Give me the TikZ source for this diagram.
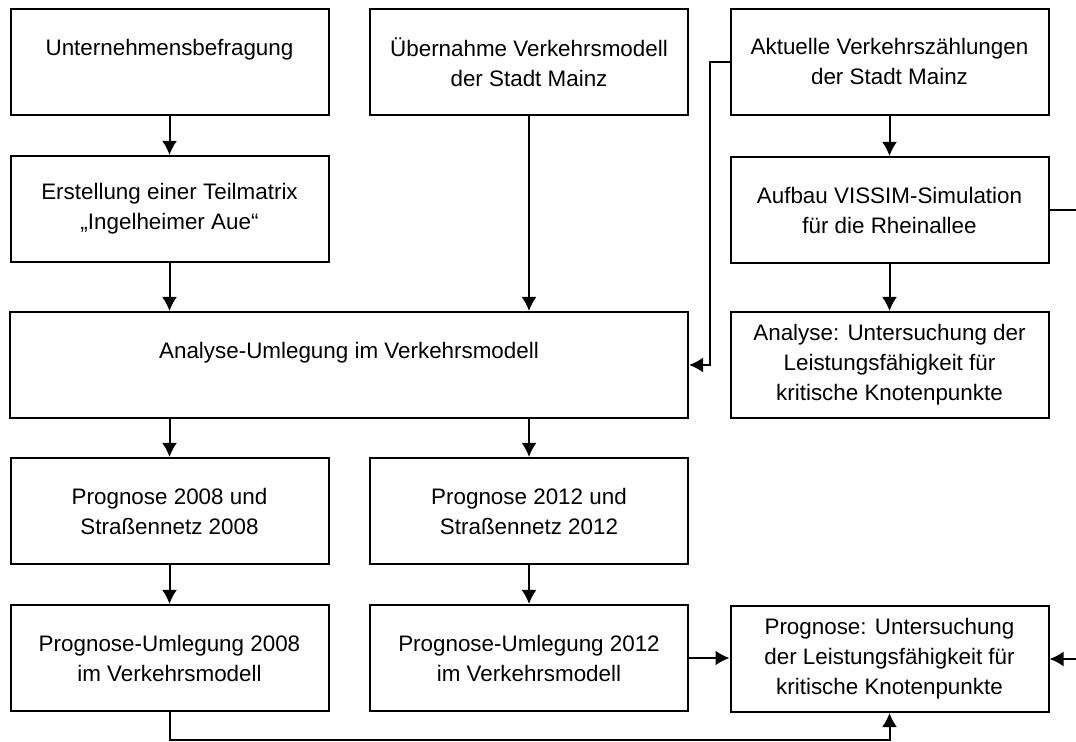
\documentclass[tikz,border=0pt]{standalone}
\usepackage{fontspec}
\setmainfont{Liberation Sans}
\usetikzlibrary{arrows.meta,positioning,calc}

\begin{document}
\begin{tikzpicture}[x=0.5pt,y=-0.5pt,
  kasten/.style={draw,line width=1pt,minimum width=159pt,minimum height=53pt,inner sep=0pt,align=center,font=\fontsize{11.2}{15}\selectfont},
  pfeil/.style={line width=1pt,-{Latex[length=7pt,width=7.5pt]}}]
%Rahmen in Pixeln, rechts wird die Leitung abgeschnitten
\clip (0,0) rectangle (1076,742);
  \pgfmathsetmacro{\xa}{169.5}
  \pgfmathsetmacro{\xb}{529}
  \pgfmathsetmacro{\xc}{889.5}
%Erste Zeile
\node[kasten] (unt) at (\xa,62) {Unternehmensbefragung\\~};
\node[kasten] (ueb) at (\xb,62) {Übernahme Verkehrsmodell\\der Stadt Mainz};
\node[kasten] (akt) at (\xc,62) {Aktuelle Verkehrszählungen\\der Stadt Mainz};
%Zweite Zeile
\node[kasten] (erst) at (\xa,209) {Erstellung einer Teilmatrix\\„Ingelheimer Aue“};
\node[kasten] (vissim) at (\xc,210) {Aufbau VISSIM-Simulation\\für die Rheinallee};
%Analyse
\node[kasten,minimum width=339pt] (anaUml) at (349,365) {Analyse-Umlegung im Verkehrsmodell\\~};
\node[kasten] (anaKnot) at (\xc,365) {Analyse: Untersuchung der\\Leistungsfähigkeit für\\kritische Knotenpunkte};
%Prognose
\node[kasten] (prog08) at (\xa,511) {Prognose 2008 und\\Straßennetz 2008};
\node[kasten] (prog12) at (\xb,511) {Prognose 2012 und\\Straßennetz 2012};
\node[kasten] (uml08) at (\xa,658) {Prognose-Umlegung 2008\\im Verkehrsmodell};
\node[kasten] (uml12) at (\xb,658) {Prognose-Umlegung 2012\\im Verkehrsmodell};
\node[kasten] (progKnot) at (\xc,659) {Prognose: Untersuchung\\der Leistungsfähigkeit für\\kritische Knotenpunkte};
%Pfeile
\draw[pfeil] (unt) -- (erst);
\draw[pfeil] (erst) -- (erst.south |- anaUml.north);
\draw[pfeil] (ueb) -- (ueb.south |- anaUml.north);
\draw[pfeil] (akt) -- (vissim);
\draw[pfeil] (vissim) -- (anaKnot);
\draw[pfeil] (anaUml.south -| prog08.north) -- (prog08);
\draw[pfeil] (anaUml.south -| prog12.north) -- (prog12);
\draw[pfeil] (prog08) -- (uml08);
\draw[pfeil] (prog12) -- (uml12);
\draw[pfeil] (uml12.east) -- (uml12.east -| progKnot.west);
\draw[pfeil] (akt.west) -- ++(-20,0) |- (anaUml.east);
\draw[pfeil] (vissim.east) -- ++(40,0) |- (progKnot.east);
\draw[pfeil] (uml08.south) -- ++(0,28) -| (progKnot.south);
\end{tikzpicture}
\end{document}
